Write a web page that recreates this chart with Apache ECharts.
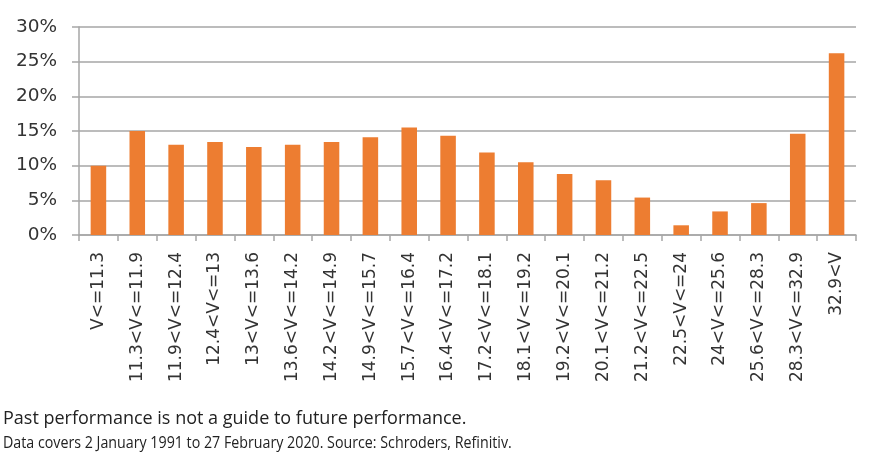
<!DOCTYPE html>
<html><head><meta charset="utf-8">
<script src="https://cdn.jsdelivr.net/npm/echarts@6/dist/echarts.min.js"></script>
<style>html,body{margin:0;padding:0;background:#fff}#c{width:882px;height:475px}</style>
</head><body><div id="c"></div>
<script>
const categories = ["V<=11.3","11.3<V<=11.9","11.9<V<=12.4","12.4<V<=13","13<V<=13.6","13.6<V<=14.2","14.2<V<=14.9","14.9<V<=15.7","15.7<V<=16.4","16.4<V<=17.2","17.2<V<=18.1","18.1<V<=19.2","19.2<V<=20.1","20.1<V<=21.2","21.2<V<=22.5","22.5<V<=24","24<V<=25.6","25.6<V<=28.3","28.3<V<=32.9","32.9<V"];
const values = [10.0,15.0,13.0,13.4,12.7,13.0,13.4,14.1,15.5,14.3,11.9,10.5,8.8,7.9,5.4,1.4,3.4,4.6,14.6,26.2];
const yTicks = [0,5,10,15,20,25,30];
const footer1 = "Past performance is not a guide to future performance.";
const footer2 = "Data covers 2 January 1991 to 27 February 2020. Source: Schroders, Refinitiv.";

const chart = echarts.init(document.getElementById('c'));
chart.setOption({
  animation:false,
  textStyle:{fontFamily:'Open Sans'},
  grid:{left:79,right:26,top:27,bottom:240,containLabel:false},
  xAxis:{type:'category',data:categories,
    axisLine:{lineStyle:{color:'#a6a6a6',width:1.5}},
    axisTick:{show:true,length:6,lineStyle:{color:'#a6a6a6',width:1.5}},
    axisLabel:{rotate:90,margin:17,fontSize:17,color:'#333',fontFamily:'DejaVu Sans'}},
  yAxis:{type:'value',min:yTicks[0],max:yTicks[yTicks.length-1],interval:5,
    axisLine:{show:true,lineStyle:{color:'#a6a6a6',width:1.5}},
    axisTick:{show:true,length:7,lineStyle:{color:'#a6a6a6',width:1.5}},
    splitLine:{lineStyle:{color:'#a6a6a6',width:1.5}},
    axisLabel:{margin:22,fontSize:18.5,color:'#333',fontFamily:'DejaVu Sans',formatter:v=>v+'%'}},
  series:[{type:'bar',data:values,barWidth:'40%',itemStyle:{color:'#ED7D31'}}],
  graphic:[
    {type:'text',x:3,y:410,style:{text:footer1,fontSize:18,fill:'#222',fontFamily:'Open Sans',verticalAlign:'top'}},
    {type:'text',x:3,y:435,scaleX:0.89,originX:0,style:{text:footer2,fontSize:16,fill:'#222',fontFamily:'Open Sans',verticalAlign:'top'}}
  ]
});
</script></body></html>
